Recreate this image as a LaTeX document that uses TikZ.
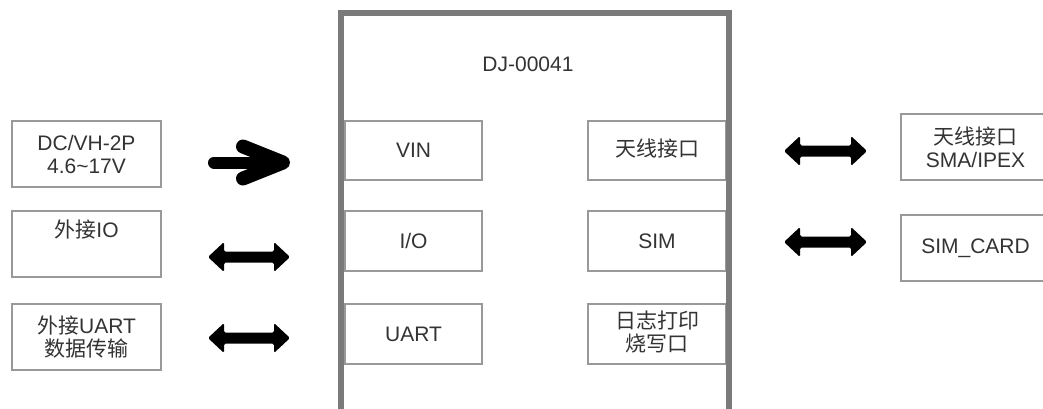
\documentclass[tikz,border=0pt]{standalone}
\usepackage{fontspec}
\setmainfont{Liberation Sans}
\newfontfamily\cjk{Noto Sans CJK SC}
\usetikzlibrary{calc,fit}
\definecolor{txtc}{HTML}{333333}
\definecolor{bordc}{HTML}{7A7A7A}
\definecolor{thinc}{HTML}{999999}
\newcommand\dblarrow[2]{\fill[arr] (#1) -- ($(#1)+(16,-15)$) -- ($(#1)+(16,-5.5)$) -- ($(#2)+(-16,-5.5)$) -- ($(#2)+(-16,-15)$) -- (#2) -- ($(#2)+(-16,15)$) -- ($(#2)+(-16,5.5)$) -- ($(#1)+(16,5.5)$) -- ($(#1)+(16,15)$) -- cycle;}
\begin{document}
\begin{tikzpicture}[x=1pt,y=-1pt,
  box/.style={draw=thinc, line width=1.4pt, fill=white, inner sep=0pt},
  lbl/.style={text=txtc, font=\fontsize{21}{23}\selectfont, align=center, inner sep=0pt},
  mainbox/.style={draw=bordc, line width=6.5pt, inner sep=0pt},
  arr/.style={fill=black, rounded corners=1.5pt},
  fat/.style={draw=black, line cap=round, line join=round}]
\useasboundingbox (0,0) rectangle (1043,408);
\begin{scope}
\clip (0,0) rectangle (1043,408);
% left external boxes
\node[box, fit={(12,121) (161,187)}, label={[lbl]center:DC/VH-2P\\4.6\textasciitilde17V}] (dc) {};
\node[box, fit={(12,211) (161,277)}] (io) {};
\node[lbl, anchor=north] (iot) at ($(io.north)+(0,9)$) {{\cjk 外接}IO};
\node[box, fit={(12,304) (161,370)}, label={[lbl]center:{\cjk 外接}UART\\{\cjk 数据传输}}] (uartx) {};
% inner boxes
\node[box, fit={(345,121) (482,180)}, label={[lbl]center:VIN}] (vin) {};
\node[box, fit={(345,211) (482,271)}, label={[lbl]center:I/O}] (ioi) {};
\node[box, fit={(345,304) (482,364)}, label={[lbl]center:UART}] (uarti) {};
\node[box, fit={(588,121) (726,180)}, label={[lbl, yshift=2pt]center:{\cjk 天线接口}}] (ant) {};
\node[box, fit={(588,211) (726,271)}, label={[lbl]center:SIM}] (sim) {};
\node[box, fit={(588,304) (726,364)}, label={[lbl, yshift=1.5pt]center:{\cjk 日志打印}\\{\cjk 烧写口}}] (log) {};
% main box
\node[mainbox, fit={(341,13) (729,412)}] (main) {};
\node[lbl] (title) at (528,64) {DJ-00041};
% right external boxes
\node[box, fit={(901,114) (1050,180)}, label={[lbl]center:{\cjk 天线接口}\\SMA/IPEX}] (antx) {};
\node[box, fit={(901,215) (1050,281)}, label={[lbl]center:SIM\_CARD}] (simx) {};
% arrows
\coordinate (p1a) at (214,162.5);
\coordinate (p1b) at (283,162.5);
\draw[fat, line width=12pt] (p1a) -- (p1b);
\draw[fat, line width=14pt] ($(p1b)+(-40,-16)$) -- (p1b) -- ($(p1b)+(-40,16)$);
\coordinate (l2a) at (208,257); \coordinate (l2b) at (290,257);
\coordinate (l3a) at (208,338); \coordinate (l3b) at (290,338);
\coordinate (r1a) at (784,151); \coordinate (r1b) at (867,151);
\coordinate (r2a) at (784,242); \coordinate (r2b) at (867,242);
\dblarrow{l2a}{l2b}
\dblarrow{l3a}{l3b}
\dblarrow{r1a}{r1b}
\dblarrow{r2a}{r2b}
\end{scope}
\end{tikzpicture}
\end{document}
